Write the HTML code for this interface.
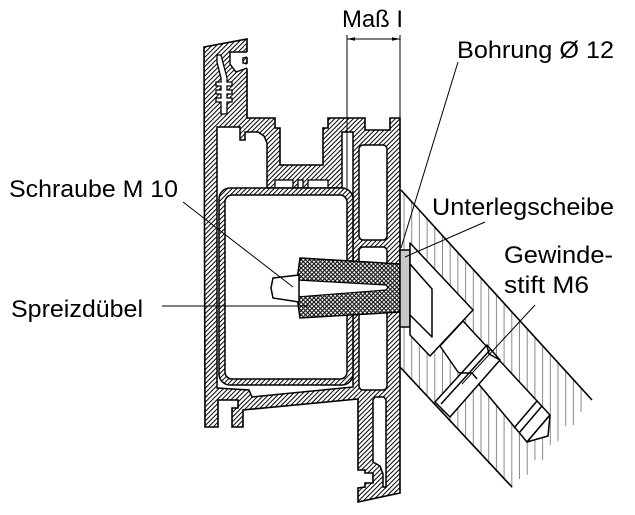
<!DOCTYPE html>
<html><head><meta charset="utf-8"><style>
html,body{margin:0;padding:0;background:#fff;}
svg{display:block;}
text{font-family:"Liberation Sans",Arial,sans-serif;font-size:24px;fill:#000;}
</style></head><body>
<svg width="635" height="515" viewBox="0 0 635 515" xmlns="http://www.w3.org/2000/svg">
<defs>
<pattern id="h" width="3.3" height="3.3" patternUnits="userSpaceOnUse" patternTransform="rotate(45)">
<rect width="3.3" height="3.3" fill="#fff"/>
<line x1="0.5" y1="-1" x2="0.5" y2="4.3" stroke="#000" stroke-width="1"/>
</pattern>
<pattern id="x" width="3" height="3" patternUnits="userSpaceOnUse" patternTransform="rotate(45)">
<rect width="3" height="3" fill="#fff"/>
<line x1="0.5" y1="-1" x2="0.5" y2="4" stroke="#111" stroke-width="1.2"/>
<line x1="-1" y1="0.5" x2="4" y2="0.5" stroke="#111" stroke-width="1.2"/>
</pattern>
</defs>

<!-- concrete hatch -->
<g stroke="#8a8a8a" stroke-width="1">
<line x1="404" y1="193.3" x2="404" y2="371.4"/>
<line x1="411.7" y1="201.8" x2="411.7" y2="379.7"/>
<line x1="419.4" y1="210.2" x2="419.4" y2="388.1"/>
<line x1="427.1" y1="218.7" x2="427.1" y2="396.5"/>
<line x1="434.8" y1="227.2" x2="434.8" y2="404.9"/>
<line x1="442.5" y1="235.6" x2="442.5" y2="413.3"/>
<line x1="450.2" y1="244.1" x2="450.2" y2="421.7"/>
<line x1="457.9" y1="252.6" x2="457.9" y2="430.1"/>
<line x1="465.6" y1="261" x2="465.6" y2="438.5"/>
<line x1="473.3" y1="269.5" x2="473.3" y2="446.8"/>
<line x1="481" y1="278" x2="481" y2="455.2"/>
<line x1="488.7" y1="286.4" x2="488.7" y2="463.6"/>
<line x1="496.4" y1="294.9" x2="496.4" y2="472"/>
<line x1="504.1" y1="303.4" x2="504.1" y2="480.4"/>
<line x1="511.8" y1="311.8" x2="511.8" y2="488"/>
<line x1="519.5" y1="320.3" x2="519.5" y2="479"/>
<line x1="527.2" y1="328.8" x2="527.2" y2="475"/>
<line x1="534.9" y1="337.2" x2="534.9" y2="460"/>
<line x1="542.6" y1="345.7" x2="542.6" y2="460"/>
<line x1="550.3" y1="354.2" x2="550.3" y2="445"/>
<line x1="558" y1="362.6" x2="558" y2="441"/>
<line x1="565.7" y1="371.1" x2="565.7" y2="426"/>
<line x1="573.4" y1="379.6" x2="573.4" y2="425"/>
<line x1="581.1" y1="388" x2="581.1" y2="412"/>
</g>
<g stroke="#000" stroke-width="1.6" fill="none">
<line x1="401" y1="190" x2="592" y2="400"/>
<line x1="400" y1="367" x2="512" y2="487"/>
</g>

<!-- aluminium profile -->
<polygon points="204,47 247,39 247,118 275,118 275,128 280,128 280,165 323,165 323,128 328,128 328,118 365,118 365,130 390,130 390,118 400,118 400,493 358,502 358,488 365,487 365,483 373,483 373,473 365,473 365,470 358,470 358,399 243,410 243,427 232,427 232,408 238,408 238,400 218,400 218,427 205,427" fill="url(#h)" stroke="#000" stroke-width="1.6" stroke-linejoin="miter"/>

<!-- top groove -->
<polygon points="230,52 248.5,52 248.5,57 243,58 243,63 248.5,64 248.5,68 236,72 230,64" fill="#fff"/>
<polyline points="247,52 230,52 230,64 236,72 247,68" fill="none" stroke="#000" stroke-width="1.4"/>
<polyline points="247,57 243,58 243,63 247,64" fill="none" stroke="#000" stroke-width="1.4"/>

<!-- fir tree slot -->
<polygon points="217,55 221,55 227,78 227,82 232,82 232,86 227,86 227,90 232,90 232,94 227,94 227,98 232,98 232,102 227,102 227,114 221,114 221,102 216,102 216,98 221,98 221,94 216,94 216,90 221,90 221,86 216,86 216,82 221,82 221,78 217,62" fill="#fff" stroke="#000" stroke-width="1.3"/>

<!-- interior chamber -->
<polygon points="217,127 240,127 240,140 245,140 245,132 258,132 264,136 267,143 267,188 342,188 342,132 353,132 353,387 252,397 249,390 217,388" fill="#fff" stroke="#000" stroke-width="1.5"/>

<!-- small rects under bar -->
<g fill="#fff" stroke="#000" stroke-width="1.3">
<rect x="275" y="180" width="18" height="8"/>
<rect x="308" y="180" width="20" height="8"/>
<rect x="298" y="180" width="5" height="8"/>
</g>

<!-- steel tube -->
<rect x="219" y="188" width="134" height="197" rx="11" fill="url(#h)" stroke="#000" stroke-width="1.5"/>
<rect x="225" y="195" width="122" height="184" rx="7" fill="#fff" stroke="#000" stroke-width="1.5"/>

<!-- right chambers -->
<g fill="#fff" stroke="#000" stroke-width="1.5">
<rect x="359" y="145" width="28" height="95" rx="4"/>
<rect x="359" y="247" width="28" height="143" rx="4"/>
<polygon points="373,400 375,397 384,397 386,400 386,487 383,487 383,474 380,466 373,462"/>
</g>

<!-- dimension -->
<g stroke="#000" stroke-width="1" fill="none">
<line x1="347" y1="35" x2="347" y2="188"/>
<line x1="400" y1="35" x2="400" y2="118"/>
<line x1="347" y1="39" x2="400" y2="39"/>
</g>
<polygon points="347,39 355,37.2 355,40.8" fill="#000"/>
<polygon points="400,39 392,37.2 392,40.8" fill="#000"/>

<!-- dowel -->
<polygon points="300,258 400,264 400,312 300,318 297,297 297,280" fill="url(#x)" stroke="#000" stroke-width="1.5"/>
<polygon points="297,280 386,285 388,287.5 386,290 297,297" fill="#fff" stroke="#000" stroke-width="1.2"/>
<polygon points="273,278 299,275 299,302 273,298 271,288" fill="#fff" stroke="#000" stroke-width="1.5"/>

<!-- washer -->
<rect x="400" y="250" width="10" height="77" fill="#c8c8c8" stroke="#000" stroke-width="1.5"/>

<!-- set screw -->
<g fill="#fff" stroke="#000" stroke-width="1.5" stroke-linejoin="round">
<polygon points="463,321 550,415 527,442 477,382 458,372 440,346"/>
<polygon points="550,415 548,436 527,442"/>
<line x1="537" y1="401" x2="514" y2="428"/>
<line x1="542" y1="406" x2="519" y2="433"/>
<polygon points="487,345 500,360 450,417 435,402"/>
<polyline points="460,373 472,373 477,379" fill="none"/>
<polyline points="487,346 489,354 500,360" fill="none"/>
<line x1="441" y1="404" x2="490" y2="350"/>
<polygon points="410,243 473,310 430,356 410,335"/>
<polyline points="410,264 432,289 432,337 410,315" fill="none"/>
</g>

<!-- leaders -->
<g stroke="#000" stroke-width="1" fill="none">
<line x1="458" y1="62" x2="401" y2="248"/>
<line x1="183" y1="202" x2="293" y2="287"/>
<line x1="162" y1="306" x2="308" y2="306"/>
<line x1="485" y1="222" x2="405" y2="257"/>
<line x1="535" y1="305" x2="462" y2="384"/>
</g>

<!-- labels -->
<text x="342" y="27" textLength="61" lengthAdjust="spacingAndGlyphs">Maß I</text>
<text x="457" y="58" textLength="157" lengthAdjust="spacingAndGlyphs">Bohrung Ø 12</text>
<text x="9" y="197" textLength="169" lengthAdjust="spacingAndGlyphs">Schraube M 10</text>
<text x="11" y="317" textLength="132" lengthAdjust="spacingAndGlyphs">Spreizdübel</text>
<text x="432" y="215" textLength="182" lengthAdjust="spacingAndGlyphs">Unterlegscheibe</text>
<text x="504" y="263" textLength="109" lengthAdjust="spacingAndGlyphs">Gewinde-</text>
<text x="504" y="293" textLength="85" lengthAdjust="spacingAndGlyphs">stift M6</text>
</svg>
</body></html>
